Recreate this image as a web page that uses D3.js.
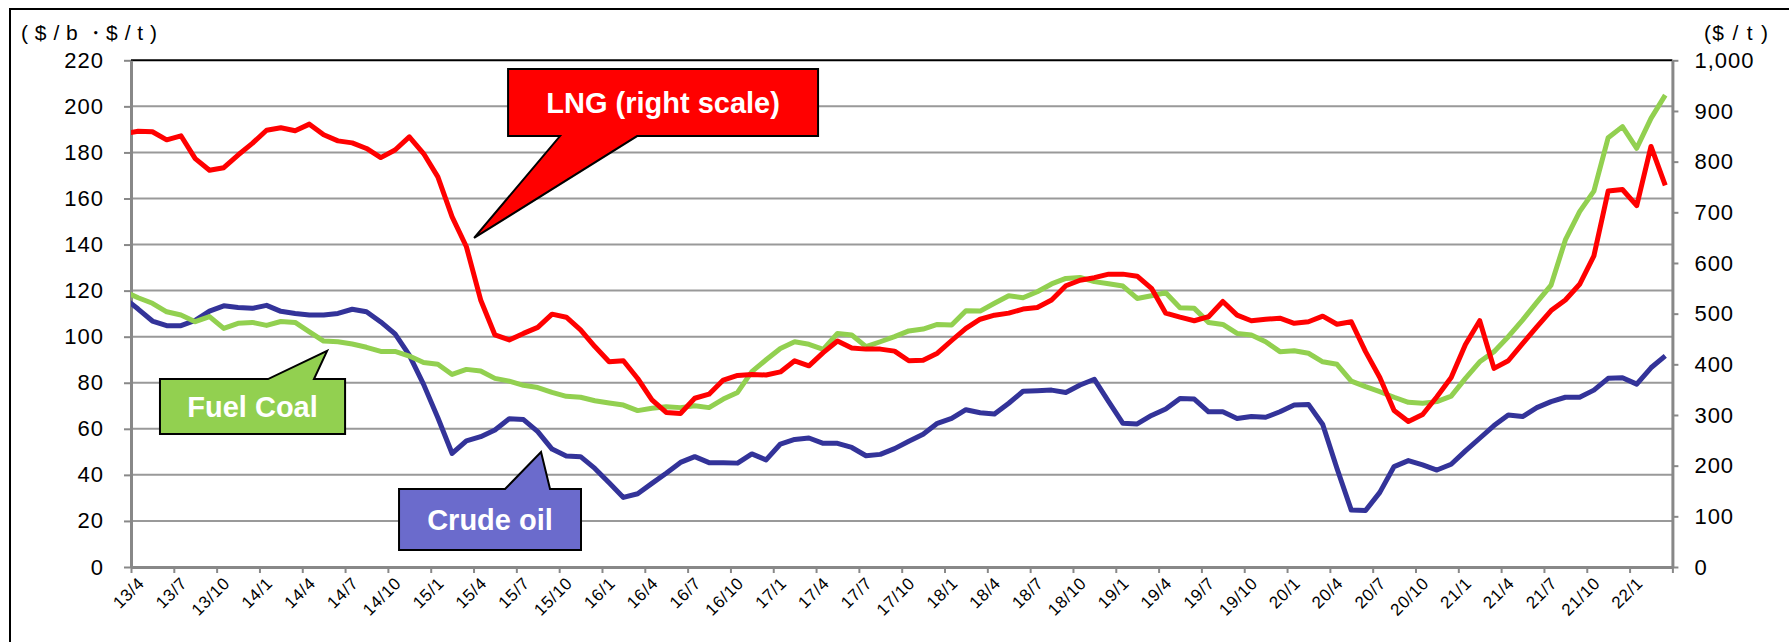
<!DOCTYPE html>
<html>
<head>
<meta charset="utf-8">
<script src="https://cdn.jsdelivr.net/npm/d3@7"></script>
<style>
  body { margin: 0; background: #fff; }
  svg { display: block; font-family: "Liberation Sans", Arial, sans-serif; }
</style>
</head>
<body>
<div id="chart"></div>
<script>
// monthly values, first entry is 13/3 (sits left of the axis and is clipped), last is 22/3
const crudeOil = [ // $/b, left scale
  116.9,
  112.0, 106.8, 104.8, 104.8, 107.1, 111.1, 113.4, 112.7, 112.3, 113.6, 111.0, 110.1,
  109.4, 109.4, 110.1, 111.9, 110.8, 106.4, 101.2, 92.0, 79.3, 64.8, 49.3, 54.8,
  56.6, 59.5, 64.4, 64.0, 58.8, 51.2, 48.2, 47.9, 42.8, 36.6, 30.2, 31.8,
  36.3, 40.7, 45.4, 47.9, 45.3, 45.3, 45.1, 49.1, 46.5, 53.4, 55.4, 56.0,
  53.7, 53.7, 51.9, 48.3, 48.9, 51.4, 54.6, 57.6, 62.4, 64.5, 68.3, 67.0,
  66.4, 71.1, 76.3, 76.5, 76.8, 75.8, 79.0, 81.5, 71.8, 62.4, 62.1, 65.8,
  68.6, 73.2, 72.9, 67.4, 67.4, 64.5, 65.3, 65.0, 67.4, 70.3, 70.6, 61.9,
  42.8, 24.7, 24.5, 32.4, 43.6, 46.2, 44.3, 42.1, 44.6, 50.4, 55.9, 61.4,
  66.0, 65.3, 69.2, 71.8, 73.7, 73.7, 76.8, 81.9, 82.2, 79.4, 86.5, 91.7
];
const fuelCoal = [ // $/t, left scale
  119.8,
  116.9, 114.5, 110.8, 109.4, 106.5, 108.7, 103.6, 105.8, 106.2, 104.9, 106.6, 106.2,
  102.1, 98.1, 97.8, 96.8, 95.4, 93.6, 93.6, 91.6, 88.8, 88.0, 83.6, 85.8,
  85.1, 81.9, 80.7, 78.9, 77.9, 75.8, 74.1, 73.7, 72.2, 71.2, 70.3, 67.9,
  68.9, 69.6, 69.2, 70.0, 69.2, 72.9, 75.8, 84.8, 90.0, 94.9, 97.8, 96.7,
  94.5, 101.4, 100.7, 95.7, 97.8, 100.0, 102.5, 103.3, 105.3, 105.1, 111.3, 111.1,
  114.5, 117.8, 116.9, 119.5, 122.9, 125.3, 125.7, 123.9, 123.0, 122.0, 116.6, 117.8,
  119.1, 112.6, 112.3, 106.2, 105.3, 101.4, 100.7, 97.8, 93.5, 93.9, 92.8, 89.1,
  88.0, 80.7, 78.3, 76.1, 73.7, 71.5, 71.1, 71.8, 74.2, 81.9, 89.1, 93.5,
  100.0, 107.2, 114.9, 122.4, 142.0, 154.3, 163.2, 186.4, 191.2, 181.8, 194.8, 204.9
];
const lng = [ // $/t, right scale
  855,
  860, 859, 843, 851, 806, 783, 788, 813, 836, 862, 867, 861,
  874, 853, 841, 837, 826, 808, 823, 849, 816, 770, 691, 632,
  527, 458, 448, 461, 473, 499, 493, 468, 435, 405, 407, 372,
  330, 305, 303, 333, 341, 369, 378, 380, 379, 385, 407, 397,
  423, 446, 432, 430, 430, 426, 407, 408, 422, 447, 471, 489,
  497, 501, 509, 512, 527, 555, 566, 571, 578, 578, 574, 550,
  501, 493, 486, 494, 524, 497, 486, 489, 491, 481, 484, 495,
  479, 484, 425, 374, 309, 287, 301, 336, 374, 439, 486, 392,
  407, 441, 474, 506, 527, 558, 614, 742, 745, 713, 830, 753
];

const tickLabels = [
  "13/4", "13/7", "13/10", "14/1", "14/4", "14/7", "14/10", "15/1", "15/4",
  "15/7", "15/10", "16/1", "16/4", "16/7", "16/10", "17/1", "17/4", "17/7",
  "17/10", "18/1", "18/4", "18/7", "18/10", "19/1", "19/4", "19/7", "19/10",
  "20/1", "20/4", "20/7", "20/10", "21/1", "21/4", "21/7", "21/10", "22/1"
];

// callout boxes in chart units (months from 13/4, left-scale value)
const callouts = [
  { text: "LNG (right scale)", fill: "#ff0000", x0: 26.42, x1: 48.14, yTop: 216.2, yBot: 187.1,
    edge: "bottom", b0: 30.06, b1: 35.46, tipX: 24.04, tipY: 142.9 },
  { text: "Fuel Coal", fill: "#92d050", x0: 2.03, x1: 15.0, yTop: 81.6, yBot: 57.7,
    edge: "top", b0: 9.6, b1: 12.82, tipX: 13.74, tipY: 93.8 },
  { text: "Crude oil", fill: "#6b6bcc", x0: 18.78, x1: 31.53, yTop: 33.86, yBot: 7.38,
    edge: "top", b0: 26.21, b1: 29.36, tipX: 28.73, tipY: 49.9 }
];

const width = 1789, height = 642;
const plotL = 131, plotR = 1672.4, plotT = 60.3, plotB = 567;

const svg = d3.select("#chart").append("svg")
    .attr("width", width)
    .attr("height", height);

// outer frame, runs off the right and bottom edge
svg.append("rect")
    .attr("x", 10).attr("y", 9)
    .attr("width", 1900).attr("height", 900)
    .attr("fill", "none")
    .attr("stroke", "#000")
    .attr("stroke-width", 2);

const x = d3.scaleLinear().domain([0, 108]).range([plotL, plotR]);
const yL = d3.scaleLinear().domain([0, 220]).range([plotB, plotT]);
const yR = d3.scaleLinear().domain([0, 1000]).range([plotB, plotT]);

// gridlines
svg.append("g")
  .selectAll("line")
  .data(d3.range(20, 220, 20))
  .join("line")
    .attr("x1", plotL).attr("x2", plotR)
    .attr("y1", d => yL(d)).attr("y2", d => yL(d))
    .attr("stroke", "#999")
    .attr("stroke-width", 2);

// top edge of plot area
svg.append("line")
    .attr("x1", plotL).attr("x2", plotR)
    .attr("y1", plotT).attr("y2", plotT)
    .attr("stroke", "#000")
    .attr("stroke-width", 2);

function styleAxis(g) {
  g.select(".domain").attr("stroke", "#888").attr("stroke-width", 3);
  g.selectAll(".tick line").attr("stroke", "#888").attr("stroke-width", 2);
  g.selectAll(".tick text")
      .attr("fill", "#000")
      .style("font-size", "22px")
      .style("letter-spacing", "1px");
}

svg.append("g")
    .attr("transform", `translate(${plotL},0)`)
    .call(d3.axisLeft(yL).tickValues(d3.range(0, 221, 20))
      .tickSize(7).tickSizeOuter(0).tickPadding(20))
    .call(styleAxis);

svg.append("g")
    .attr("transform", `translate(${plotR},0)`)
    .call(d3.axisRight(yR).tickValues(d3.range(0, 1001, 100))
      .tickFormat(d3.format(",")).tickSize(6).tickSizeOuter(0).tickPadding(16))
    .call(styleAxis);

svg.append("g")
    .attr("transform", `translate(0,${plotB})`)
    .call(d3.axisBottom(x).tickValues(d3.range(0, 109, 3))
      .tickSize(6).tickSizeOuter(0).tickFormat(""))
    .call(styleAxis);

// month labels, centred on the first month of each quarter
svg.append("g")
  .selectAll("text")
  .data(tickLabels)
  .join("text")
    .attr("transform", (d, j) => `translate(${x(j * 3 + 0.5) + 3},580) rotate(-45)`)
    .attr("dy", "0.35em")
    .attr("text-anchor", "end")
    .style("font-size", "17px")
    .style("letter-spacing", "0.7px")
    .text(d => d);

// unit labels
svg.append("text")
    .attr("x", 21).attr("y", 40)
    .attr("textLength", 136).attr("lengthAdjust", "spacing")
    .style("font-size", "21px")
    .text("( $ / b ・$ / t )");
svg.append("text")
    .attr("x", 1704).attr("y", 40)
    .attr("textLength", 64).attr("lengthAdjust", "spacing")
    .style("font-size", "21px")
    .text("($ / t )");

// series
svg.append("clipPath").attr("id", "plot")
  .append("rect")
    .attr("x", plotL).attr("y", plotT - 5)
    .attr("width", plotR - plotL).attr("height", plotB - plotT + 5);

const lineL = d3.line().x((d, k) => x(k - 0.5)).y(d => yL(d));
const lineR = d3.line().x((d, k) => x(k - 0.5)).y(d => yR(d));

const series = [
  { values: crudeOil, line: lineL, color: "#333399" },
  { values: fuelCoal, line: lineL, color: "#92d050" },
  { values: lng, line: lineR, color: "#ff0000" }
];

svg.append("g")
    .attr("clip-path", "url(#plot)")
  .selectAll("path")
  .data(series)
  .join("path")
    .attr("d", d => d.line(d.values))
    .attr("fill", "none")
    .attr("stroke", d => d.color)
    .attr("stroke-width", 5)
    .attr("stroke-linejoin", "round");

// callouts
function calloutPoints(c) {
  const X0 = x(c.x0), X1 = x(c.x1), T = yL(c.yTop), B = yL(c.yBot);
  const B0 = x(c.b0), B1 = x(c.b1), tip = [x(c.tipX), yL(c.tipY)];
  if (c.edge === "top") {
    return [[X0, T], [B0, T], tip, [B1, T], [X1, T], [X1, B], [X0, B]];
  }
  return [[X0, T], [X1, T], [X1, B], [B1, B], tip, [B0, B], [X0, B]];
}

const co = svg.append("g")
  .selectAll("g")
  .data(callouts)
  .join("g");

co.append("polygon")
    .attr("points", d => calloutPoints(d).join(" "))
    .attr("fill", d => d.fill)
    .attr("stroke", "#000")
    .attr("stroke-width", 2)
    .attr("stroke-linejoin", "miter");

co.append("text")
    .attr("x", d => (x(d.x0) + x(d.x1)) / 2)
    .attr("y", d => (yL(d.yTop) + yL(d.yBot)) / 2)
    .attr("dy", "0.37em")
    .attr("text-anchor", "middle")
    .attr("fill", "#fff")
    .style("font-size", "29px")
    .style("font-weight", "bold")
    .text(d => d.text);
</script>
</body>
</html>
